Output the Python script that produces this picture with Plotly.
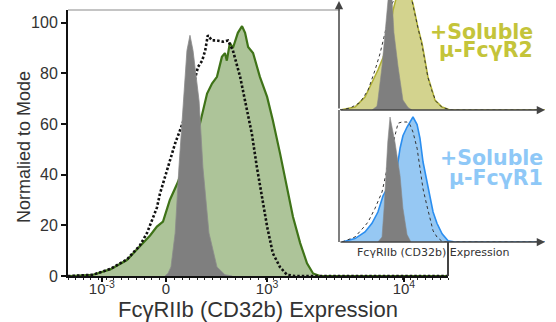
import plotly.graph_objects as go

W, H = 556, 322

# ---------------- main panel data (channel units 0-1000) ----------------
green_x = [0, 5, 66, 111, 155, 189, 216, 234, 250, 268, 289, 308, 326, 347, 366, 379, 392, 405, 413, 418,
           426, 434, 447, 458, 466, 474, 487, 505, 524, 539, 558, 576, 592, 611, 629, 645, 663, 1000]
green_y = [0, 0, 0.5, 2.6, 6.3, 11.6, 16, 19.5, 21.5, 30, 37, 45, 52, 60, 72, 76, 78.6, 86.5, 88, 85,
           92, 90, 96, 98.6, 96, 90.4, 88, 78.6, 70.7, 61.5, 48.4, 35, 23.4, 13, 5, 1, 0, 0]

ctrl_x = [0, 5, 66, 111, 155, 189, 208, 234, 242, 261, 282, 295, 308, 321, 334, 342, 353, 361, 368, 379,
          392, 408, 421, 434, 453, 471, 484, 497, 511, 524, 539, 558, 576, 597, 1000]
ctrl_y = [0, 0, 0.5, 2.8, 6.5, 12, 17, 27, 32.5, 42, 52.4, 57.6, 63, 70, 78, 82.5, 85, 89, 95, 93,
          93, 92.5, 93, 89, 78.6, 65.5, 56, 43, 30, 19.5, 9, 3.5, 0.5, 0, 0]

iso_x = [255, 263, 271, 282, 292, 303, 313, 321, 329, 345, 355, 371, 392, 413, 432]
iso_y = [0, 1, 3.6, 17, 43, 69, 89, 95, 89, 69, 43, 17, 3.6, 0.5, 0]

main_tickvals = [89, 258, 524, 884]
main_ticktext = ["10<sup>-3</sup>", "0", "10<sup>3</sup>", "10<sup>4</sup>"]
y_ticks = [0, 20, 40, 60, 80, 100]

# ---------------- inset 1 (soluble FcgR2) ----------------
r2_x = [0, 73, 122, 156, 185, 210, 234, 259, 283, 307, 332, 356, 366, 380, 400, 415, 429, 449, 463, 498, 537, 1000]
r2_y = [0, 2.4, 10.4, 21.6, 32, 42, 55, 80, 95, 100, 98, 85, 77, 66, 53.6, 40, 26.4, 16, 8, 2.4, 0, 0]
r2c_x = [0, 49, 98, 137, 171, 195, 220, 254, 283, 317, 341, 366, 380, 400, 415, 429, 449, 468, 498, 546, 1000]
r2c_y = [0, 1.5, 6, 16, 32, 45, 62, 85, 95, 100, 95, 78, 66, 52, 39, 26, 15, 7, 2, 0, 0]
r2i_x = [156, 180, 185, 205, 220, 234, 241, 254, 263, 283, 307, 332, 351]
r2i_y = [0, 3, 8, 35, 62, 90, 100, 88, 62, 35, 8, 2, 0]

# ---------------- inset 2 (soluble FcgR1) ----------------
r1_x = [10, 73, 122, 156, 185, 210, 244, 278, 293, 307, 327, 341, 356, 376, 390, 405, 424, 439, 454, 473, 498, 527, 561, 1000]
r1_y = [0, 2.7, 8, 15, 24, 37, 47, 58.5, 75, 85, 92, 96, 100, 94, 83, 64, 48, 35, 24, 15, 6.5, 1, 0, 0]
r1c_x = [10, 73, 122, 137, 171, 205, 234, 268, 283, 302, 327, 341, 356, 376, 390, 405, 424, 439, 454, 473, 498, 522, 1000]
r1c_y = [0, 4, 13, 16, 27, 40, 62, 85, 95, 96, 96, 94, 88, 75, 58.5, 42.5, 29, 18.7, 9, 4, 0.5, 0, 0]
r1i_x = [185, 205, 215, 224, 233, 244, 254, 268, 293, 307, 327, 346]
r1i_y = [0, 4, 27, 53, 80, 100, 92, 80, 53, 27, 6, 0]


def px(x):
    return x / W


def py(y):
    return (H - y) / H


fig = go.Figure()

# main panel
fig.add_trace(go.Scatter(x=green_x, y=green_y, mode="lines", fill="tozeroy",
                         fillcolor="#adc499", line=dict(color="#3f7318", width=2.2),
                         xaxis="x", yaxis="y", hoverinfo="skip"))
fig.add_trace(go.Scatter(x=ctrl_x, y=ctrl_y, mode="lines",
                         line=dict(color="#111111", width=2.6, dash="2.5px,2px"),
                         xaxis="x", yaxis="y", hoverinfo="skip"))
fig.add_trace(go.Scatter(x=iso_x, y=iso_y, mode="lines", fill="tozeroy",
                         fillcolor="#7f7f7f", line=dict(color="#8c8c8c", width=0.8),
                         xaxis="x", yaxis="y", hoverinfo="skip"))

# inset 1
fig.add_trace(go.Scatter(x=r2_x, y=r2_y, mode="lines", fill="tozeroy",
                         fillcolor="#d3d38e", line=dict(color="#b0b034", width=1.5),
                         xaxis="x2", yaxis="y2", hoverinfo="skip"))
fig.add_trace(go.Scatter(x=r2c_x, y=r2c_y, mode="lines",
                         line=dict(color="#333333", width=1, dash="dot"),
                         xaxis="x2", yaxis="y2", hoverinfo="skip"))
fig.add_trace(go.Scatter(x=r2i_x, y=r2i_y, mode="lines", fill="tozeroy",
                         fillcolor="#7f7f7f", line=dict(color="#888888", width=0.6),
                         xaxis="x2", yaxis="y2", hoverinfo="skip"))

# inset 2
fig.add_trace(go.Scatter(x=r1_x, y=r1_y, mode="lines", fill="tozeroy",
                         fillcolor="#96c8f3", line=dict(color="#2a8ef0", width=1.6),
                         xaxis="x3", yaxis="y3", hoverinfo="skip"))
fig.add_trace(go.Scatter(x=r1c_x, y=r1c_y, mode="lines",
                         line=dict(color="#333333", width=1, dash="dot"),
                         xaxis="x3", yaxis="y3", hoverinfo="skip"))
fig.add_trace(go.Scatter(x=r1i_x, y=r1i_y, mode="lines", fill="tozeroy",
                         fillcolor="#7f7f7f", line=dict(color="#888888", width=0.6),
                         xaxis="x3", yaxis="y3", hoverinfo="skip"))

axis_font = "Liberation Sans, Arial, sans-serif"

fig.update_layout(
    width=W, height=H,
    margin=dict(l=0, r=0, t=0, b=0),
    paper_bgcolor="white", plot_bgcolor="rgba(0,0,0,0)",
    showlegend=False,
    font=dict(family=axis_font, color="#333333"),
    xaxis=dict(domain=[px(68), px(448)], range=[0, 1000], anchor="y",
               tickmode="array", tickvals=main_tickvals, ticktext=main_ticktext,
               tickfont=dict(size=15, color="#333333"), ticklabelstandoff=-6,
               showline=True, linecolor="#111111", linewidth=2,
               ticks="outside", ticklen=4, tickwidth=1.5, tickcolor="#111111",
               minor=dict(tickmode="linear", tick0=0, dtick=20, ticks="outside",
                          ticklen=2, tickwidth=1, tickcolor="#222222"),
               showgrid=False, zeroline=False, automargin=False, fixedrange=True),
    yaxis=dict(domain=[py(276), py(10)], range=[0, 105], anchor="x",
               tickmode="array", tickvals=y_ticks,
               tickfont=dict(size=16, color="#333333"),
               showline=True, linecolor="#111111", linewidth=2,
               ticks="outside", ticklen=5, tickwidth=2, tickcolor="#111111",
               showgrid=False, zeroline=False, automargin=False, fixedrange=True),
    xaxis2=dict(domain=[px(340), px(545)], range=[0, 1000], anchor="y2", visible=False),
    yaxis2=dict(domain=[py(110), 1.0], range=[0, 88], anchor="x2", visible=False),
    xaxis3=dict(domain=[px(340), px(545)], range=[0, 1000], anchor="y3", visible=False),
    yaxis3=dict(domain=[py(242), py(110)], range=[0, 105.6], anchor="x3", visible=False),
)

shapes = [
    # main frame top border (grey)
    dict(type="line", xref="paper", yref="paper", x0=px(68), x1=px(340), y0=py(10), y1=py(10),
         line=dict(color="#c4c4c4", width=2)),
    # main frame right border (below insets)
    dict(type="line", xref="paper", yref="paper", x0=px(448), x1=px(448), y0=py(242), y1=py(276),
         line=dict(color="#444444", width=2)),
    # inset 2 vertical axis
    dict(type="line", xref="paper", yref="paper", x0=px(339), x1=px(339), y0=py(110), y1=py(242),
         line=dict(color="#555555", width=1.5)),
]
fig.update_layout(shapes=shapes)

ann = []
# inset arrows
for (tx, ty, ax, ay) in [(339, 1, 0, 109), (545, 110, -206, 0), (545, 242, -206, 0)]:
    ann.append(dict(xref="paper", yref="paper", x=px(tx), y=py(ty), ax=ax, ay=ay,
                    text="", showarrow=True, arrowhead=2, arrowsize=1.1, arrowwidth=1.5,
                    arrowcolor="#444444", standoff=0, startstandoff=0))

# axis titles
ann.append(dict(xref="paper", yref="paper", x=px(258), y=py(309), text="FcγRIIb (CD32b) Expression",
                showarrow=False, xanchor="center", yanchor="middle",
                font=dict(family=axis_font, size=22, color="#333333")))
ann.append(dict(xref="paper", yref="paper", x=px(24), y=py(147), text="Normalied to Mode",
                showarrow=False, textangle=-90, xanchor="center", yanchor="middle",
                font=dict(family=axis_font, size=18, color="#333333")))
ann.append(dict(xref="paper", yref="paper", x=px(433), y=py(252), text="FcγRIIb (CD32b) Expression",
                showarrow=False, xanchor="center", yanchor="middle",
                font=dict(family="DejaVu Sans, sans-serif", size=11, color="#333333")))

# inset labels
lab_font = "DejaVu Sans, Verdana, sans-serif"
for (txt, xr, yc, col) in [("+Soluble", 535, 32, "#c4c43a"), ("μ-FcγR2", 535, 50, "#c4c43a"),
                           ("+Soluble", 545, 158, "#8ec8f7"), ("μ-FcγR1", 545, 178, "#8ec8f7")]:
    ann.append(dict(xref="paper", yref="paper", x=px(xr), y=py(yc), text="<b>" + txt + "</b>",
                    showarrow=False, xanchor="right", yanchor="middle",
                    font=dict(family=lab_font, size=20.5, color=col)))

fig.update_layout(annotations=ann)

fig.write_html("out.html")
